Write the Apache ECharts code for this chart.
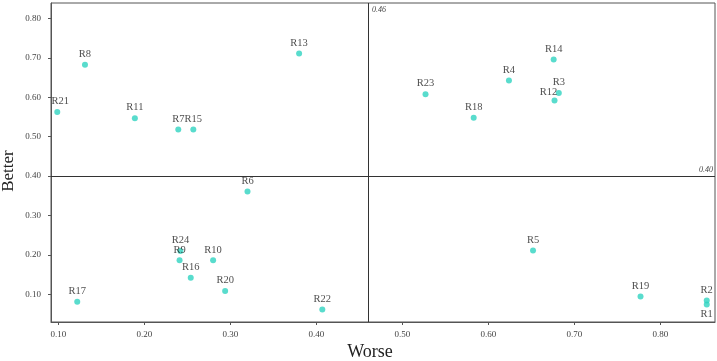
<!DOCTYPE html>
<html><head><meta charset="utf-8">
<script src="https://cdn.jsdelivr.net/npm/echarts@6/dist/echarts.min.js"></script>
<style>html,body{margin:0;padding:0;background:#fff}#c{width:717px;height:361px}</style>
</head><body><div id="c"></div>
<script>
const names = ['R1','R2','R3','R4','R5','R6','R7','R8','R9','R10','R11','R12','R13','R14','R15','R16','R17','R18','R19','R20','R21','R22','R23','R24'];
const worse = [0.854,0.854,0.682,0.624,0.652,0.320,0.2395,0.131,0.241,0.280,0.189,0.677,0.380,0.676,0.257,0.254,0.122,0.583,0.777,0.294,0.0988,0.407,0.527,0.242];
const better = [0.074,0.084,0.611,0.643,0.211,0.361,0.518,0.683,0.186,0.186,0.547,0.592,0.711,0.696,0.518,0.142,0.081,0.548,0.094,0.108,0.563,0.061,0.608,0.210];
const xTicks = [0.1,0.2,0.3,0.4,0.5,0.6,0.7,0.8];
const yTicks = [0.1,0.2,0.3,0.4,0.5,0.6,0.7,0.8];
const worseMean = 0.46;
const betterMean = 0.40;

const labelShift = {R12:[-6,2], R21:[3,0]};
const data = names.map((n,i)=>{
  const d = {name:n, value:[worse[i], better[i]]};
  if (n === 'R1') d.label = {position:'bottom',distance:1};
  return d;
});
const serif = 'Liberation Serif';
const chart = echarts.init(document.getElementById('c'));
chart.setOption({
  animation:false,
  grid:{left:51,right:2,top:3,bottom:39},
  xAxis:{type:'value',min:0.0915,max:0.8636,
    axisLine:{show:true,lineStyle:{color:'#555',width:1}},
    axisTick:{show:true,length:3,inside:false,customValues:xTicks,lineStyle:{color:'#555'}},
    axisLabel:{customValues:xTicks,formatter:v=>v.toFixed(2),fontFamily:serif,fontSize:9,color:'#444',margin:8},
    splitLine:{show:false}},
  yAxis:{type:'value',min:0.0295,max:0.8395,
    axisLine:{show:true,lineStyle:{color:'#555',width:1}},
    axisTick:{show:true,length:3,inside:false,customValues:yTicks,lineStyle:{color:'#555'}},
    axisLabel:{customValues:yTicks,formatter:v=>v.toFixed(2),fontFamily:serif,fontSize:9,color:'#444',margin:10},
    splitLine:{show:false}},
  series:[{
    type:'scatter',symbolSize:6,
    itemStyle:{color:'#2fd3c1'},
    label:{show:true,position:'top',distance:2,formatter:p=>p.name,fontFamily:serif,fontSize:10.5,color:'#222'},
    labelLayout:function(p){
      const s = labelShift[names[p.dataIndex]];
      return s ? {dx:s[0],dy:s[1]} : {};
    },
    data:data,
    markLine:{silent:true,symbol:'none',animation:false,
      lineStyle:{color:'#333',type:'solid',width:1},
      data:[
        {xAxis:worseMean,label:{show:false}},
        {yAxis:betterMean,label:{formatter:betterMean.toFixed(2),position:'insideEndTop',fontFamily:serif,fontStyle:'italic',fontSize:8,color:'#444',distance:2}}
      ]}
  }]
});
const vx = chart.convertToPixel({gridIndex:0},[worseMean,betterMean])[0];
chart.setOption({
  graphic:[
    {type:'rect',shape:{x:51,y:3,width:664,height:319},style:{fill:'none',stroke:'#555',lineWidth:1},silent:true,z:-1},
    {type:'text',x:vx+4,y:10,style:{text:worseMean.toFixed(2),font:'italic 8px "Liberation Serif"',fill:'#444',textAlign:'left',textVerticalAlign:'middle'}},
    {type:'text',x:9,y:171,rotation:Math.PI/2,style:{text:'Better',font:'17px "Liberation Serif"',fill:'#222',textAlign:'center',textVerticalAlign:'middle'}},
    {type:'text',x:370,y:352,style:{text:'Worse',font:'18px "Liberation Serif"',fill:'#222',textAlign:'center',textVerticalAlign:'middle'}}
  ]
});
</script></body></html>
